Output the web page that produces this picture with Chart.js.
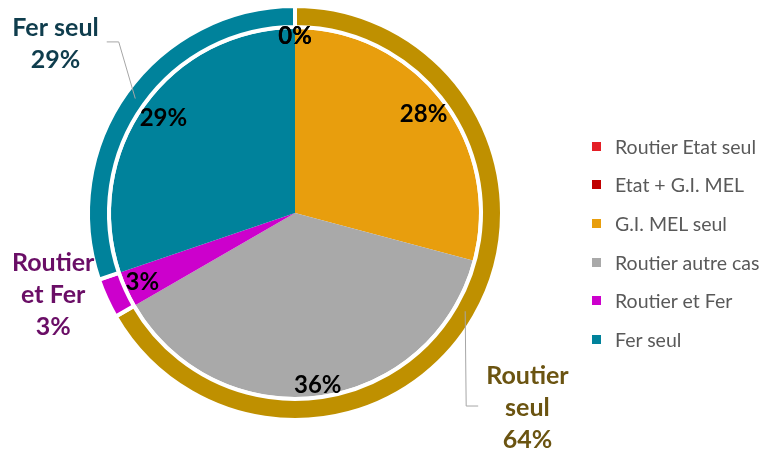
<!DOCTYPE html>
<html>
<head>
<meta charset="utf-8">
<script src="https://cdn.jsdelivr.net/npm/chart.js@4"></script>
<style>
  html, body { margin: 0; padding: 0; background: #fff; }
  #wrap { position: relative; width: 784px; height: 455px; }
  #legend { position: absolute; left: 592px; top: 127px; margin: 0; padding: 0; list-style: none;
            font-family: Lato, "Open Sans", sans-serif; font-size: 19.5px; color: #595959; }
  #legend li { height: 38.6px; display: flex; align-items: center; white-space: nowrap; }
  #legend span.box { display: inline-block; width: 9px; height: 9px; margin-right: 14px; }
</style>
</head>
<body>
<div id="wrap"><canvas id="modeChart"></canvas><ul id="legend"></ul></div>
<script>
// inner pie: detailed categories (percent)
const categories = ['Routier Etat seul', 'Etat + G.I. MEL', 'G.I. MEL seul', 'Routier autre cas', 'Routier et Fer', 'Fer seul'];
const shares = [0, 0, 28, 36, 3, 29];
const shareColors = ['#E41E26', '#C00000', '#E89E0D', '#A9A9A9', '#CC00CC', '#00829B'];

// outer ring: grouped modes (percent)
const groupNames = ['Routier seul', 'Routier et Fer', 'Fer seul'];
const groupShares = [64, 3, 29];
const groupColors = ['#BF9000', '#CC00CC', '#00829B'];
const groupTextColors = ['#6B5411', '#6A0E66', '#0F3D4D'];

const FONT = 'Lato, "Open Sans", sans-serif';

// where the outer group labels sit: angle shift (deg) and radius factor
const groupLabelLayout = [
    { shift: 10, factor: 1.48, leader: true },
    { shift: 5.7, factor: 1.245, leader: false },
    { shift: -0.4, factor: 1.43, leader: true }
];

function wrapWords(ctx, text, maxW) {
    const words = text.split(' ');
    const lines = [];
    let cur = '';
    words.forEach(w => {
        const test = cur ? cur + ' ' + w : w;
        if (cur && ctx.measureText(test).width > maxW) {
            lines.push(cur);
            cur = w;
        } else {
            cur = test;
        }
    });
    if (cur) lines.push(cur);
    return lines;
}

const pieLabels = {
    id: 'pieLabels',
    afterDatasetsDraw(chart) {
        const ctx = chart.ctx;
        ctx.save();
        ctx.textAlign = 'center';
        ctx.textBaseline = 'middle';

        // percent labels inside the inner pie, near its edge
        ctx.font = 'bold 24px ' + FONT;
        ctx.fillStyle = '#000';
        chart.getDatasetMeta(2).data.forEach((arc, i) => {
            const p = arc.getProps(['x', 'y', 'startAngle', 'endAngle', 'outerRadius'], true);
            const mid = (p.startAngle + p.endAngle) / 2;
            const txt = shares[i] + '%';
            const w = ctx.measureText(txt).width;
            const ext = Math.abs(w / 2 * Math.cos(mid)) + Math.abs(10 * Math.sin(mid));
            const r = p.outerRadius - ext + 3;
            ctx.fillText(txt, p.x + r * Math.cos(mid), p.y + r * Math.sin(mid));
        });

        // group labels outside the ring
        chart.getDatasetMeta(0).data.forEach((arc, i) => {
            const p = arc.getProps(['x', 'y', 'startAngle', 'endAngle', 'outerRadius', 'innerRadius'], true);
            const lay = groupLabelLayout[i];
            const mid = (p.startAngle + p.endAngle) / 2;
            const a = mid + lay.shift * Math.PI / 180;
            const ringR = p.outerRadius - 2;
            const lx = p.x + ringR * lay.factor * Math.cos(a);
            const ly = p.y + ringR * lay.factor * Math.sin(a);

            ctx.font = 'bold 25px ' + FONT;
            const lines = wrapWords(ctx, groupNames[i], 100);
            lines.push(groupShares[i] + '%');
            const lh = 32;
            const maxW = Math.max(...lines.map(l => ctx.measureText(l).width));

            if (lay.leader) {
                const ringMid = (p.outerRadius + p.innerRadius) / 2;
                const ax = p.x + ringMid * Math.cos(mid);
                const ay = p.y + ringMid * Math.sin(mid);
                const dir = ax > lx ? 1 : -1;
                const sx = lx + dir * (maxW / 2 + 8);
                const ex = sx + dir * 12;
                ctx.beginPath();
                ctx.moveTo(sx, ly - 2);
                ctx.lineTo(ex, ly - 2);
                ctx.lineTo(ax, ay);
                ctx.strokeStyle = '#A6A6A6';
                ctx.lineWidth = 1;
                ctx.stroke();
            }

            ctx.fillStyle = groupTextColors[i];
            lines.forEach((l, k) => {
                ctx.fillText(l, lx, ly + (k - (lines.length - 1) / 2) * lh);
            });
        });
        ctx.restore();
    }
};

new Chart(document.getElementById('modeChart'), {
    type: 'doughnut',
    data: {
        labels: categories,
        datasets: [
            {
                label: 'Groupes',
                data: groupShares,
                backgroundColor: groupColors,
                borderColor: '#ffffff',
                borderWidth: 4,
                weight: 21
            },
            {
                label: 'gap',
                data: [1],
                backgroundColor: 'rgba(0,0,0,0)',
                borderWidth: 0,
                weight: 2
            },
            {
                label: 'Modes',
                data: shares,
                backgroundColor: shareColors,
                borderWidth: 0,
                weight: 184
            }
        ]
    },
    options: {
        responsive: true,
        maintainAspectRatio: false,
        animation: false,
        radius: 207,
        cutout: 0,
        layout: {
            padding: { top: 8, bottom: 37, left: 0, right: 194 }
        },
        plugins: {
            legend: { display: false },
            tooltip: { enabled: false }
        }
    },
    plugins: [pieLabels]
});

// legend built from the same category list and colours
const legendEl = document.getElementById('legend');
categories.forEach((c, i) => {
    const li = document.createElement('li');
    const box = document.createElement('span');
    box.className = 'box';
    box.style.background = shareColors[i];
    li.appendChild(box);
    li.appendChild(document.createTextNode(c));
    legendEl.appendChild(li);
});
</script>
</body>
</html>
